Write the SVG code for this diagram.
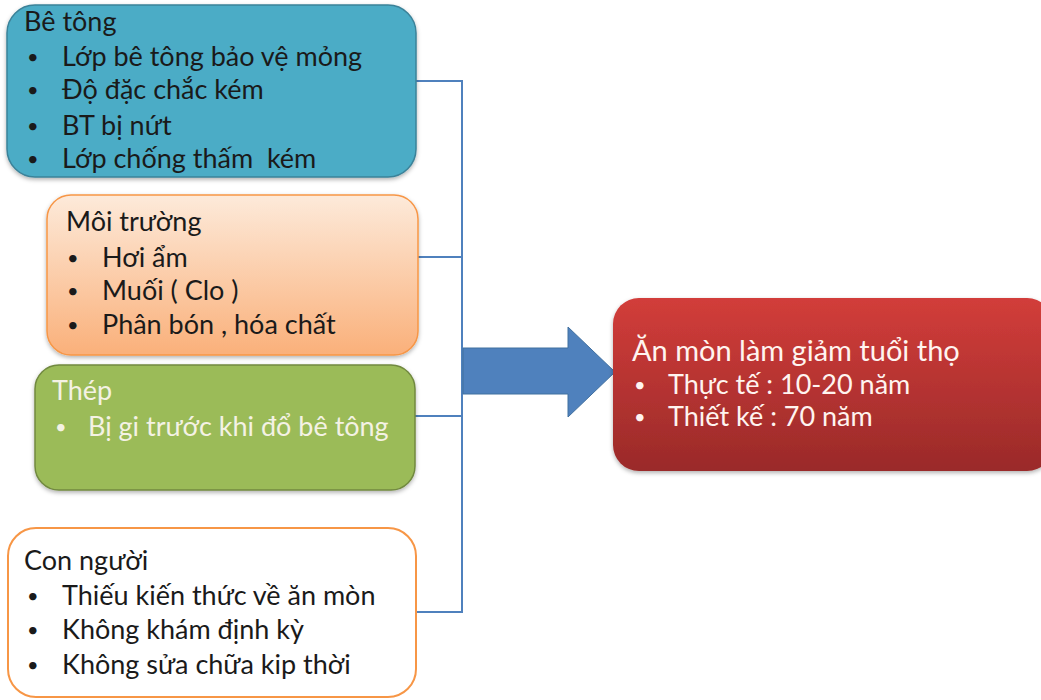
<svg xmlns="http://www.w3.org/2000/svg" width="1041" height="700" viewBox="0 0 1041 700">
<defs>
<linearGradient id="gOrange" x1="0" y1="0" x2="0" y2="1">
<stop offset="0" stop-color="#FDEADA"/>
<stop offset="1" stop-color="#FAB07A"/>
</linearGradient>
<linearGradient id="gRed" x1="0" y1="0" x2="0" y2="1">
<stop offset="0" stop-color="#D23D3A"/>
<stop offset="1" stop-color="#9A2A29"/>
</linearGradient>
<filter id="sh" x="-10%" y="-10%" width="120%" height="130%">
<feDropShadow dx="0" dy="2" stdDeviation="2" flood-color="#000" flood-opacity="0.3"/>
</filter>
</defs>
<style>
text{font-family:Lato,"Open Sans","Liberation Sans",sans-serif;font-size:27px;white-space:pre;}
.b{font-size:20px;}
.dk{fill:#1a1a1a;}
.lt{fill:#F4F2E4;}
.wh{fill:#FFF4F0;}
.conn{fill:none;stroke:#4F81BD;stroke-width:2;}
</style>
<rect width="1041" height="700" fill="#ffffff"/>
<g id="connectors">
<polyline class="conn" points="416,81 462,81 462,612 416,612"/>
<line class="conn" x1="416" y1="257" x2="462" y2="257"/>
<line class="conn" x1="415" y1="416" x2="462" y2="416"/>
<polygon points="463,348 568,348 568,327 615,372 568,417 568,394 463,394" fill="#4F81BD" stroke="#41709F" stroke-width="1"/>
</g>
<g id="node-betong">
<rect x="7" y="5" width="409" height="172" rx="28" fill="#4BACC6" stroke="#3B8299" stroke-width="1.5" filter="url(#sh)"/>
<text class="dk" x="24" y="31">Bê tông</text>
<text class="dk b" x="27" y="64">•</text><text class="dk" x="62" y="66">Lớp bê tông bảo vệ mỏng</text>
<text class="dk b" x="27" y="97">•</text><text class="dk" x="62" y="99">Độ đặc chắc kém</text>
<text class="dk b" x="27" y="133">•</text><text class="dk" x="62" y="135">BT bị nứt</text>
<text class="dk b" x="27" y="166">•</text><text class="dk" x="62" y="168" xml:space="preserve">Lớp chống thấm  kém</text>
</g>
<g id="node-moitruong">
<rect x="47" y="195" width="371" height="160" rx="24" fill="url(#gOrange)" stroke="#F79646" stroke-width="1.5" filter="url(#sh)"/>
<text class="dk" x="66" y="231">Môi trường</text>
<text class="dk b" x="67" y="265">•</text><text class="dk" x="102" y="267">Hơi ẩm</text>
<text class="dk b" x="67" y="298">•</text><text class="dk" x="102" y="300">Muối ( Clo )</text>
<text class="dk b" x="67" y="332">•</text><text class="dk" x="102" y="334">Phân bón , hóa chất</text>
</g>
<g id="node-thep">
<rect x="35" y="365" width="380" height="125" rx="24" fill="#9BBB59" stroke="#71893F" stroke-width="1.5" filter="url(#sh)"/>
<text class="lt" x="52" y="400">Thép</text>
<text class="lt b" x="55" y="434">•</text><text class="lt" x="88" y="436">Bị gi trước khi đổ bê tông</text>
</g>
<g id="node-connguoi">
<rect x="8" y="528" width="408" height="169" rx="28" fill="#FFFFFF" stroke="#F79646" stroke-width="2"/>
<text class="dk" x="24" y="570">Con người</text>
<text class="dk b" x="27" y="603">•</text><text class="dk" x="62" y="605">Thiếu kiến thức về ăn mòn</text>
<text class="dk b" x="27" y="637">•</text><text class="dk" x="62" y="639">Không khám định kỳ</text>
<text class="dk b" x="27" y="672">•</text><text class="dk" x="62" y="674">Không sửa chữa kip thời</text>
</g>
<g id="node-anmon">
<rect x="613" y="298" width="440" height="173" rx="26" fill="url(#gRed)" filter="url(#sh)"/>
<text class="wh" x="632" y="361" style="font-size:29px">Ăn mòn làm giảm tuổi thọ</text>
<text class="wh b" x="634" y="392">•</text><text class="wh" x="668" y="394">Thực tế : 10-20 năm</text>
<text class="wh b" x="634" y="424">•</text><text class="wh" x="668" y="426">Thiết kế : 70 năm</text>
</g>
</svg>
